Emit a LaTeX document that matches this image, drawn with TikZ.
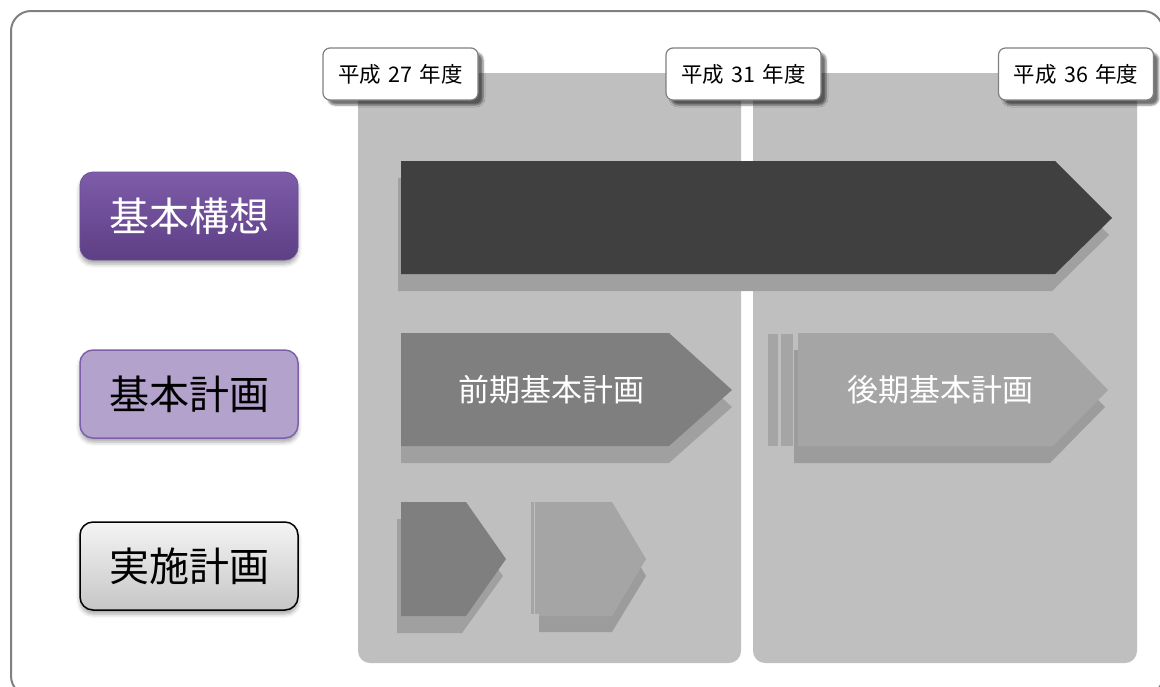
\documentclass[tikz,border=0pt]{standalone}
\usepackage{fontspec}
\setmainfont{Noto Sans CJK JP}
\usetikzlibrary{shadows,shadows.blur}
\definecolor{framecol}{HTML}{808080}
\definecolor{panel}{HTML}{BFBFBF}
\definecolor{darkarrow}{HTML}{404040}
\definecolor{midarrow}{HTML}{7F7F7F}
\definecolor{lightarrow}{HTML}{A5A5A5}
\definecolor{shadowcol}{HTML}{A0A0A0}
\definecolor{shadowcolb}{HTML}{9C9C9C}
\definecolor{purpletop}{HTML}{7E5CA9}
\definecolor{purplebot}{HTML}{5D3F85}
\definecolor{purpleline}{HTML}{6B4F96}
\definecolor{lavender}{HTML}{B3A3CC}
\definecolor{lavline}{HTML}{7E60AA}
\definecolor{greytop}{HTML}{F4F4F4}
\definecolor{greybot}{HTML}{C6C6C6}
\newcommand\ysp{\hspace{0.35em}}
\tikzset{
  yearbox/.style={draw=framecol, line width=1.2pt, fill=white, rounded corners=7pt,
    minimum width=155pt, minimum height=52pt, inner sep=0pt,
    font=\fontsize{21.5}{25}\selectfont,
    blur shadow={shadow xshift=5pt, shadow yshift=-5pt, shadow blur radius=2pt, shadow opacity=55}},
  rowbox/.style={rounded corners=13pt, minimum width=218pt, minimum height=88pt, inner sep=0pt,
    font=\fontsize{40}{48}\selectfont,
    blur shadow={shadow xshift=0pt, shadow yshift=-4pt, shadow blur radius=4pt, shadow opacity=35}},
  arrowtext/.style={text=white, font=\fontsize{31}{36}\selectfont, inner sep=0pt}
}
\begin{document}
\begin{tikzpicture}[x=1pt,y=-1pt]
\useasboundingbox (0,0) rectangle (1160,686);
% outer frame
\draw[framecol, line width=2pt, rounded corners=20pt] (11,11) rectangle (1163,696);
% panels
\fill[panel, rounded corners=12pt] (358,73) rectangle (741,663);
\fill[panel] (358,73) rectangle (741,110);
\fill[panel, rounded corners=12pt] (753,73) rectangle (1137,663);
\fill[panel] (753,73) rectangle (1137,110);
% year labels
\node[yearbox] (y27) at (400.5,74) {平成\ysp 27\ysp 年度};
\node[yearbox] (y31) at (743.5,74) {平成\ysp 31\ysp 年度};
\node[yearbox] (y36) at (1076,74) {平成\ysp 36\ysp 年度};
% main arrow (基本構想)
\fill[shadowcol] (398,178) -- (1052,178) -- (1109,235) -- (1052,291) -- (398,291) -- cycle;
\fill[darkarrow] (401,161) -- (1055,161) -- (1112,218) -- (1055,274) -- (401,274) -- cycle;
% 前期基本計画
\fill[shadowcol] (401,350) -- (669,350) -- (732,407) -- (669,463) -- (401,463) -- cycle;
\fill[midarrow] (401,333) -- (669,333) -- (732,390) -- (669,446) -- (401,446) -- cycle;
\node[arrowtext] (zenki) at (551,390) {前期基本計画};
% 後期基本計画
\fill[lightarrow] (768,334) rectangle (778,446);
\fill[lightarrow] (781,334) rectangle (793,446);
\fill[shadowcolb] (794,350) -- (1050,350) -- (1105,407) -- (1050,463) -- (794,463) -- cycle;
\fill[lightarrow] (798,333) -- (1053,333) -- (1108,390) -- (1053,446) -- (798,446) -- cycle;
\node[arrowtext] (kouki) at (940,390) {後期基本計画};
% small arrows (実施計画)
\fill[shadowcol] (397,519) -- (462,519) -- (503,576) -- (462,633) -- (397,633) -- cycle;
\fill[midarrow] (401,502) -- (466,502) -- (506,559) -- (466,616) -- (401,616) -- cycle;
\fill[lightarrow] (531,502) rectangle (534,614);
\fill[lightarrow] (535,502) rectangle (539,614);
\fill[shadowcolb] (539,519) -- (612,519) -- (646,576) -- (612,632) -- (539,632) -- cycle;
\fill[lightarrow] (539,502) -- (612,502) -- (646,559) -- (612,616) -- (539,616) -- cycle;
% row labels
\node[rowbox, draw=purpleline, line width=0.8pt, top color=purpletop, bottom color=purplebot, text=white] (kousou) at (189,216) {基本構想};
\node[rowbox, draw=lavline, line width=1.5pt, fill=lavender, text=black] (keikaku) at (189,394) {基本計画};
\node[rowbox, draw=black, line width=1.5pt, top color=greytop, bottom color=greybot, text=black] (jisshi) at (189,566) {実施計画};
\end{tikzpicture}
\end{document}
